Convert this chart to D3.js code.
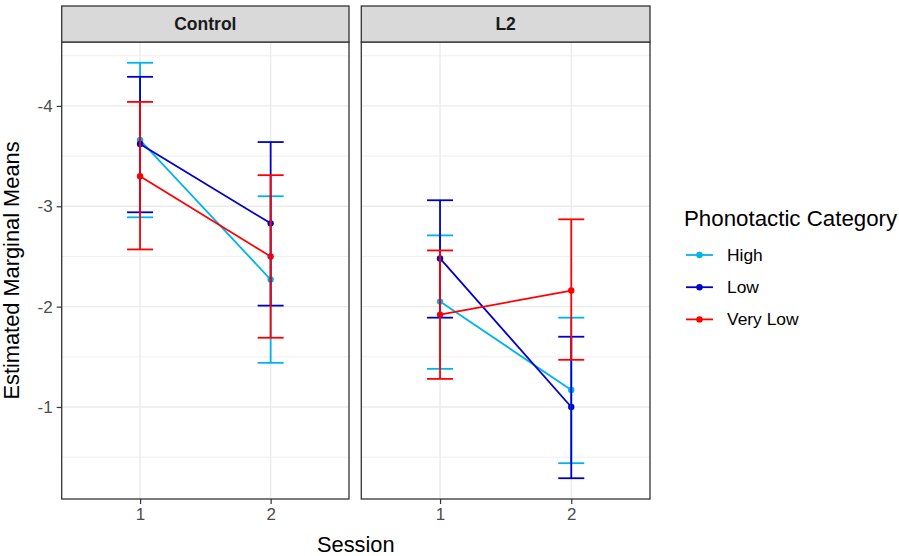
<!DOCTYPE html>
<html>
<head>
<meta charset="utf-8">
<script src="https://cdn.jsdelivr.net/npm/d3@7"></script>
<style>
  body { margin: 0; background: #fff; }
  text { font-family: "Liberation Sans", Arial, sans-serif; }
</style>
</head>
<body>
<div id="chart"></div>
<script>
var panels = ["Control", "L2"];
var sessions = ["1", "2"];
var categories = ["High", "Low", "Very Low"];
var colors = ["#00b2ee", "#0000cd", "#ff0000"];
var yTicks = [-4, -3, -2, -1];

// per category (High, Low, Very Low), per session (1, 2)
var meanControl = [[-3.66, -2.27], [-3.62, -2.83], [-3.30, -2.50]];
var ciTopControl = [[-4.43, -3.10], [-4.29, -3.64], [-4.04, -3.31]];
var ciBottomControl = [[-2.89, -1.44], [-2.94, -2.01], [-2.57, -1.69]];

var meanL2 = [[-2.05, -1.17], [-2.48, -1.00], [-1.92, -2.16]];
var ciTopL2 = [[-2.71, -1.89], [-3.06, -1.70], [-2.56, -2.87]];
var ciBottomL2 = [[-1.38, -0.44], [-1.89, -0.29], [-1.28, -1.47]];

var svgWidth = 899, svgHeight = 556;
var panelTop = 42, panelBottom = 499, stripTop = 6;
var panelX = [[61.7, 349], [361.3, 650]];

var svg = d3.select("#chart")
    .append("svg")
    .attr("width", svgWidth)
    .attr("height", svgHeight);

var yScale = d3.scaleLinear()
    .domain([-4.637, -0.083])
    .range([panelTop, panelBottom]);

var minorTicks = [-4.5, -3.5, -2.5, -1.5, -0.5];

var panelData = [
    {mean: meanControl, top: ciTopControl, bottom: ciBottomControl},
    {mean: meanL2, top: ciTopL2, bottom: ciBottomL2}
];

panels.forEach(function (name, p) {
    var xScale = d3.scalePoint()
        .domain(sessions)
        .range(panelX[p])
        .padding(0.6);
    var x0 = panelX[p][0], x1 = panelX[p][1];
    var g = svg.append("g");

    // grid
    g.selectAll(".minor").data(minorTicks).enter().append("line")
        .attr("x1", x0).attr("x2", x1)
        .attr("y1", d => yScale(d)).attr("y2", d => yScale(d))
        .attr("stroke", "#ebebeb").attr("stroke-width", 0.8);
    g.selectAll(".major").data(yTicks).enter().append("line")
        .attr("x1", x0).attr("x2", x1)
        .attr("y1", d => yScale(d)).attr("y2", d => yScale(d))
        .attr("stroke", "#ebebeb").attr("stroke-width", 1.4);
    g.selectAll(".vmajor").data(sessions).enter().append("line")
        .attr("x1", d => xScale(d)).attr("x2", d => xScale(d))
        .attr("y1", panelTop).attr("y2", panelBottom)
        .attr("stroke", "#ebebeb").attr("stroke-width", 1.4);

    var d = panelData[p];
    var line = d3.line()
        .x((v, i) => xScale(sessions[i]))
        .y(v => yScale(v));

    categories.forEach(function (cat, c) {
        g.append("path")
            .attr("d", line(d.mean[c]))
            .attr("fill", "none")
            .attr("stroke", colors[c])
            .attr("stroke-width", 1.8);
    });

    categories.forEach(function (cat, c) {
        g.selectAll(".pt" + c).data(d.mean[c]).enter().append("circle")
            .attr("cx", (v, i) => xScale(sessions[i]))
            .attr("cy", v => yScale(v))
            .attr("r", 3.2)
            .attr("fill", colors[c]);
    });

    categories.forEach(function (cat, c) {
        sessions.forEach(function (s, i) {
            var cx = xScale(s);
            var yt = yScale(d.top[c][i]), yb = yScale(d.bottom[c][i]);
            var eb = g.append("g")
                .attr("stroke", colors[c])
                .attr("stroke-width", 1.8);
            eb.append("line").attr("x1", cx).attr("x2", cx).attr("y1", yt).attr("y2", yb);
            eb.append("line").attr("x1", cx - 13).attr("x2", cx + 13).attr("y1", yt).attr("y2", yt);
            eb.append("line").attr("x1", cx - 13).attr("x2", cx + 13).attr("y1", yb).attr("y2", yb);
        });
    });

    // panel border
    g.append("rect")
        .attr("x", x0).attr("y", panelTop)
        .attr("width", x1 - x0).attr("height", panelBottom - panelTop)
        .attr("fill", "none").attr("stroke", "#333333").attr("stroke-width", 1.3);

    // strip
    g.append("rect")
        .attr("x", x0).attr("y", stripTop)
        .attr("width", x1 - x0).attr("height", panelTop - stripTop)
        .attr("fill", "#d9d9d9").attr("stroke", "#333333").attr("stroke-width", 1.3);
    g.append("text")
        .attr("x", (x0 + x1) / 2).attr("y", (stripTop + panelTop) / 2)
        .attr("dy", "0.35em")
        .attr("text-anchor", "middle")
        .style("font-size", "17.5px").style("font-weight", "bold")
        .attr("fill", "#1a1a1a")
        .text(name);

    // x axis
    var xAxis = g.append("g")
        .attr("transform", `translate(0, ${panelBottom})`)
        .call(d3.axisBottom(xScale).tickSize(5).tickPadding(4));
    xAxis.select(".domain").remove();
    xAxis.selectAll("line").attr("stroke", "#333333").attr("stroke-width", 1.2);
    xAxis.selectAll("text").attr("fill", "#4d4d4d").style("font-size", "17px")
        .style("font-family", "Liberation Sans, Arial, sans-serif");

    if (p === 0) {
        var yAxis = g.append("g")
            .attr("transform", `translate(${x0}, 0)`)
            .call(d3.axisLeft(yScale).tickValues(yTicks).tickFormat(v => String(v)).tickSize(5).tickPadding(4));
        yAxis.select(".domain").remove();
        yAxis.selectAll("line").attr("stroke", "#333333").attr("stroke-width", 1.2);
        yAxis.selectAll("text").attr("fill", "#4d4d4d").style("font-size", "17px")
            .style("font-family", "Liberation Sans, Arial, sans-serif");
    }
});

// axis titles
svg.append("text")
    .attr("transform", `translate(18.5, ${(panelTop + panelBottom) / 2}) rotate(-90)`)
    .attr("text-anchor", "middle")
    .style("font-size", "21.8px")
    .attr("fill", "#000")
    .text("Estimated Marginal Means");

svg.append("text")
    .attr("x", (panelX[0][0] + panelX[1][1]) / 2)
    .attr("y", 551.5)
    .attr("text-anchor", "middle")
    .style("font-size", "21.8px")
    .attr("fill", "#000")
    .text("Session");

// legend
var legend = svg.append("g");
legend.append("text")
    .attr("x", 684).attr("y", 225.5)
    .style("font-size", "22.3px")
    .text("Phonotactic Category");

var items = legend.selectAll(".item").data(categories).enter().append("g")
    .attr("transform", (d, i) => `translate(686, ${255 + i * 32.2})`);
items.append("line")
    .attr("x1", 0).attr("x2", 27).attr("y1", 0).attr("y2", 0)
    .attr("stroke", (d, i) => colors[i]).attr("stroke-width", 1.8);
items.append("circle")
    .attr("cx", 13.5).attr("cy", 0).attr("r", 3.2)
    .attr("fill", (d, i) => colors[i]);
items.append("text")
    .attr("x", 41).attr("y", 0).attr("dy", "0.35em")
    .style("font-size", "17.4px")
    .text(d => d);
</script>
</body>
</html>
